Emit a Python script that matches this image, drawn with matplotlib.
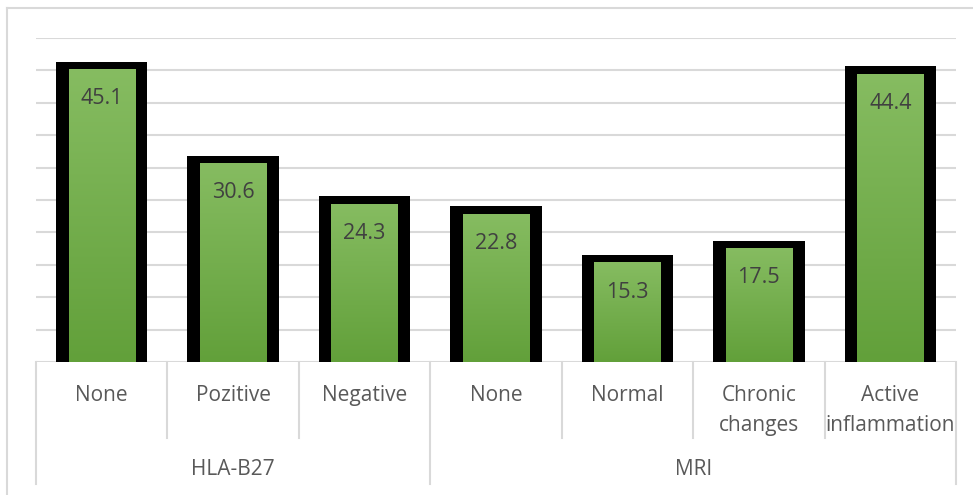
import matplotlib
matplotlib.use('Agg')
import matplotlib.pyplot as plt
import matplotlib.colors as mcolors
import numpy as np

plt.rcParams['font.family'] = ['Open Sans', 'DejaVu Sans']

# data
categorias = ['None', 'Pozitive', 'Negative', 'None', 'Normal', 'Chronic\nchanges', 'Active\ninflammation']
valores = [45.1, 30.6, 24.3, 22.8, 15.3, 17.5, 44.4]
grupos = ['HLA-B27', 'MRI']
tamanho_grupos = [3, 4]

W, H = 973, 495
fig = plt.figure(figsize=(W / 100, H / 100), dpi=100)
ax = fig.add_axes([36 / W, (H - 362) / H, (956 - 36) / W, (362 - 38) / H])

ax.set_xlim(-0.5, len(valores) - 0.5)
ax.set_ylim(0, 50)
for s in ax.spines.values():
    s.set_visible(False)
ax.set_xticks([])
ax.set_yticks([])

# grade
for g in np.arange(5, 51, 5):
    ax.axhline(g, color='#D9D9D9', lw=1.5, zorder=0)
ax.axhline(0, color='#D9D9D9', lw=1.5, zorder=0)

# gradiente verde
cmap = mcolors.LinearSegmentedColormap.from_list('verde', ['#62A03A', '#86BC61'])
grad = np.linspace(0, 1, 256).reshape(-1, 1)

x = np.arange(len(valores))
pad = 1.25
ax.bar(x, np.array(valores) + pad, width=0.695, color='black', zorder=2)
for xi, v in zip(x, valores):
    ax.imshow(grad, extent=[xi - 0.252, xi + 0.252, 0, v], origin='lower',
              cmap=cmap, aspect='auto', zorder=3)
    ax.text(xi, v - 4.5, f'{v:.1f}', ha='center', va='center',
            fontsize=15.5, color='#404040', zorder=4)
ax.set_xlim(-0.5, len(valores) - 0.5)
ax.set_ylim(0, 50)

# eixo de categorias em dois niveis
trans = ax.get_xaxis_transform()
for xi, c in zip(x, categorias):
    ax.text(xi, -0.072, c, transform=trans, ha='center', va='top',
            fontsize=15, color='#595959', linespacing=1.55)

limites = np.cumsum([0] + tamanho_grupos) - 0.5
for i, gname in enumerate(grupos):
    ax.text((limites[i] + limites[i + 1]) / 2, -0.331, gname, transform=trans,
            ha='center', va='center', fontsize=15, color='#595959')

for b in limites:
    ax.plot([b, b], [0, -0.377], transform=trans, color='#D9D9D9', lw=1.5, clip_on=False)
for xi in x[:-1] + 0.5:
    if xi not in limites:
        ax.plot([xi, xi], [0, -0.235], transform=trans, color='#D9D9D9', lw=1.5, clip_on=False)

# borda externa
fig.add_artist(plt.Line2D([7 / W, 1], [1 - 8 / H, 1 - 8 / H], color='#D9D9D9', lw=1.5))
fig.add_artist(plt.Line2D([7 / W, 7 / W], [0, 1 - 8 / H], color='#D9D9D9', lw=1.5))

fig.savefig('out.png', dpi=100)
